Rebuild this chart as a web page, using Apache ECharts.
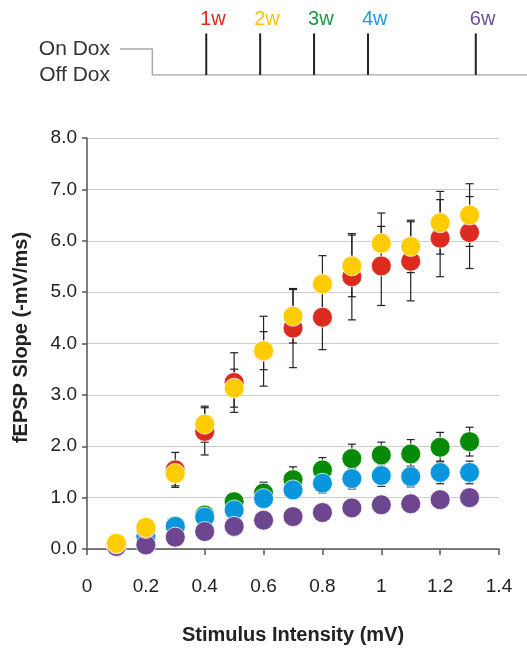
<!DOCTYPE html>
<html><head><meta charset="utf-8">
<script src="https://cdn.jsdelivr.net/npm/echarts@6/dist/echarts.min.js"></script>
<style>html,body{margin:0;padding:0;background:#fff}#c{width:527px;height:651px}</style>
</head><body><div id="c"></div>
<script>
// ---- data ----
const intensity = [0.1, 0.2, 0.3, 0.4, 0.5, 0.6, 0.7, 0.8, 0.9, 1.0, 1.1, 1.2, 1.3];

const w1    = [0.10, 0.40, 1.54, 2.29, 3.24, 3.85, 4.30, 4.51, 5.30, 5.51, 5.60, 6.05, 6.16];
const w1Err = [0.05, 0.10, 0.34, 0.46, 0.58, 0.68, 0.77, 0.63, 0.84, 0.77, 0.77, 0.75, 0.70];

const w2    = [0.11, 0.42, 1.47, 2.43, 3.13, 3.86, 4.53, 5.16, 5.51, 5.95, 5.89, 6.35, 6.50];
const w2Err = [0.05, 0.10, 0.24, 0.35, 0.37, 0.37, 0.52, 0.55, 0.60, 0.59, 0.51, 0.61, 0.61];

const w3    = [0.08, 0.22, 0.45, 0.66, 0.92, 1.09, 1.35, 1.54, 1.76, 1.83, 1.85, 1.98, 2.09];
const w3Err = [0.03, 0.05, 0.08, 0.10, 0.16, 0.21, 0.25, 0.24, 0.28, 0.25, 0.28, 0.29, 0.28];

const w4    = [0.08, 0.25, 0.44, 0.62, 0.76, 0.98, 1.15, 1.28, 1.37, 1.43, 1.41, 1.49, 1.49];
const w4Err = [0.03, 0.05, 0.08, 0.10, 0.12, 0.15, 0.17, 0.19, 0.20, 0.21, 0.20, 0.22, 0.22];

const w6    = [0.05, 0.08, 0.23, 0.34, 0.44, 0.56, 0.63, 0.71, 0.80, 0.86, 0.88, 0.96, 1.00];
const w6Err = [0.03, 0.04, 0.06, 0.07, 0.08, 0.09, 0.10, 0.11, 0.12, 0.12, 0.15, 0.12, 0.12];

const xTickLabels = ['0', '0.2', '0.4', '0.6', '0.8', '1', '1.2', '1.4'];
const yTickLabels = ['0.0', '1.0', '2.0', '3.0', '4.0', '5.0', '6.0', '7.0', '8.0'];

// timeline (weeks off dox)
const weeks = [1, 2, 3, 4, 6];
const weekLabels = ['1w', '2w', '3w', '4w', '6w'];
const doxSchedule = [[-0.6, 1], [0, 1], [0, 0], [6.95, 0]];
const doxLevelLabels = ['Off Dox', 'On Dox'];

// ---- styles ----
const FONT = '"Liberation Sans", Arial, sans-serif';
const colors = {w1: '#DC2A1E', w2: '#FFCC00', w3: '#078A07', w4: '#0A96DC', w6: '#6C4790'};
const weekColors = ['#E0261E', '#FFC20E', '#1A9A45', '#1E9BE0', '#6D4C9A'];

const chart = echarts.init(document.getElementById('c'));

function errData(v, e) { return intensity.map((x, i) => [x, v[i] - e[i], v[i] + e[i]]); }
function ptData(v) { return intensity.map((x, i) => [x, v[i]]); }

function errRender(params, api) {
  const x = api.value(0);
  const pLo = api.coord([x, api.value(1)]);
  const pHi = api.coord([x, api.value(2)]);
  const hw = 4;
  const st = {stroke: '#222', lineWidth: 1.2};
  return {type: 'group', children: [
    {type: 'line', shape: {x1: pHi[0], y1: pHi[1], x2: pLo[0], y2: pLo[1]}, style: st},
    {type: 'line', shape: {x1: pHi[0] - hw, y1: pHi[1], x2: pHi[0] + hw, y2: pHi[1]}, style: st},
    {type: 'line', shape: {x1: pLo[0] - hw, y1: pLo[1], x2: pLo[0] + hw, y2: pLo[1]}, style: st}
  ]};
}

const groups = [
  ['3w', w3, w3Err, colors.w3],
  ['4w', w4, w4Err, colors.w4],
  ['6w', w6, w6Err, colors.w6],
  ['1w', w1, w1Err, colors.w1],
  ['2w', w2, w2Err, colors.w2]
];

const series = [];
groups.forEach(g => {
  series.push({
    type: 'custom', name: g[0] + ' err', renderItem: errRender,
    data: errData(g[1], g[2]), encode: {x: 0, y: [1, 2]}, z: 1, silent: true
  });
});
groups.forEach((g, k) => {
  series.push({
    type: 'scatter', name: g[0], data: ptData(g[1]), symbolSize: 20, z: 3 + k,
    itemStyle: {color: g[3], borderColor: 'rgba(255,255,255,0.75)', borderWidth: 1, opacity: 1}
  });
});

// timeline
series.push({
  type: 'line', xAxisIndex: 1, yAxisIndex: 1, data: doxSchedule, symbol: 'none',
  lineStyle: {color: '#A8A8A8', width: 1.5}, z: 2
});
series.push({
  type: 'custom', xAxisIndex: 1, yAxisIndex: 1,
  data: weeks.map((w, i) => [w, 0, 1.6, i]),
  encode: {x: 0, y: [1, 2]}, z: 3,
  renderItem: function (params, api) {
    const w = api.value(0), i = api.value(3);
    const p0 = api.coord([w, 0]);
    const p1 = api.coord([w, 1.6]);
    return {type: 'group', children: [
      {type: 'line', shape: {x1: p0[0], y1: p0[1], x2: p1[0], y2: p1[1]}, style: {stroke: '#222', lineWidth: 2}},
      {type: 'text', x: p1[0] - 6, y: p1[1] - 14,
       style: {text: weekLabels[i], fill: weekColors[i], fontSize: 20, fontFamily: FONT, align: 'left', verticalAlign: 'middle'}}
    ]};
  }
});

chart.setOption({
  animation: false,
  backgroundColor: '#fff',
  textStyle: {fontFamily: FONT},
  grid: [
    {left: 87, right: 28, top: 138, bottom: 102},
    {left: 120, right: 0, top: 33.4, height: 41.6}
  ],
  xAxis: [
    {
      type: 'value', min: 0, max: 1.4, interval: 0.2, gridIndex: 0,
      name: 'Stimulus Intensity (mV)', nameLocation: 'middle', nameGap: 76,
      nameTextStyle: {fontSize: 20, fontWeight: 'bold', color: '#222', fontFamily: FONT},
      axisLine: {show: true, lineStyle: {color: '#555', width: 1.5}},
      axisTick: {show: true, length: 6, lineStyle: {color: '#555', width: 1.5}},
      axisLabel: {fontSize: 19, color: '#222', margin: 28, fontFamily: FONT,
        formatter: v => xTickLabels[Math.round(v / 0.2)]},
      splitLine: {show: false}
    },
    {
      type: 'value', min: -0.6, max: 6.95, gridIndex: 1, show: false
    }
  ],
  yAxis: [
    {
      type: 'value', min: 0, max: 8, interval: 1, gridIndex: 0,
      name: 'fEPSP Slope (-mV/ms)', nameLocation: 'middle', nameGap: 56,
      nameTextStyle: {fontSize: 20, fontWeight: 'bold', color: '#222', fontFamily: FONT, padding: [0, 0, 0, 12]},
      axisLine: {show: true, lineStyle: {color: '#555', width: 1.5}},
      axisTick: {show: true, length: 5, lineStyle: {color: '#555', width: 1.5}},
      axisLabel: {fontSize: 19, color: '#222', margin: 10, fontFamily: FONT,
        formatter: v => yTickLabels[Math.round(v)]},
      splitLine: {show: true, lineStyle: {color: '#CCCCCC', width: 1}}
    },
    {
      type: 'value', min: 0, max: 1.6, interval: 1, gridIndex: 1,
      axisLine: {show: false}, axisTick: {show: false}, splitLine: {show: false},
      axisLabel: {fontSize: 21, color: '#333', margin: 10, fontFamily: FONT,
        formatter: v => (v === 0 || v === 1) ? doxLevelLabels[v] : ''}
    }
  ],
  series: series
});
</script>
</body></html>
